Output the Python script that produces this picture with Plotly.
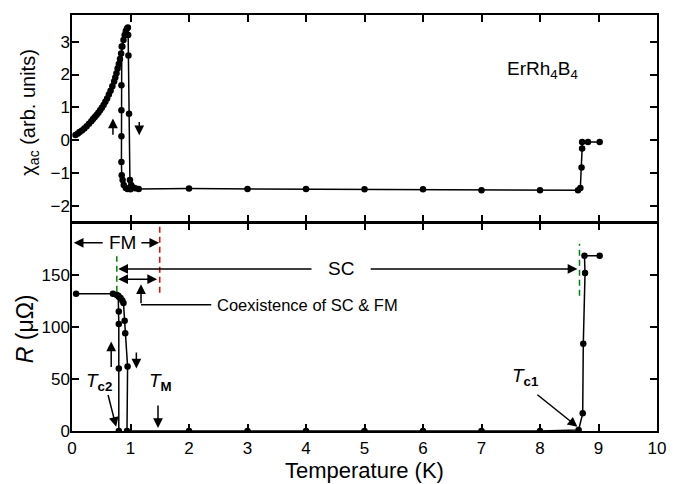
import plotly.graph_objects as go

# ---------------- data ----------------
chi_T = [0.06, 0.10, 0.13, 0.17, 0.21, 0.25, 0.29, 0.33, 0.36, 0.39, 0.42, 0.45,
         0.48, 0.51, 0.54, 0.57, 0.60, 0.63, 0.66, 0.69, 0.72, 0.74, 0.76, 0.78,
         0.80, 0.82, 0.84, 0.86, 0.88, 0.90, 0.92, 0.94, 0.955, 0.96, 0.965, 0.975,
         0.99, 1.01, 1.04, 1.08, 1.14, 2.0, 3.0, 4.0, 5.0, 6.0, 7.0, 8.0,
         8.65, 8.69, 8.71, 8.72, 8.72, 8.82, 9.02]
chi_val = [0.16, 0.21, 0.25, 0.30, 0.36, 0.43, 0.50, 0.58, 0.65, 0.71, 0.77, 0.84,
           0.91, 0.99, 1.07, 1.17, 1.27, 1.39, 1.51, 1.64, 1.79, 1.91, 2.04, 2.18,
           2.32, 2.47, 2.64, 2.85, 3.05, 3.20, 3.32, 3.40, 3.43, 3.20, 2.58, 0.81,
           -1.21, -1.36, -1.43, -1.46, -1.48, -1.47, -1.48, -1.48, -1.49, -1.49, -1.52, -1.52,
           -1.52, -1.45, -0.83, -0.25, -0.05, -0.05, -0.05]

chi_branch_T = [0.85, 0.845, 0.845, 0.845, 0.845, 0.85, 0.865, 0.885, 0.92, 0.95, 1.0]
chi_branch_val = [2.85, 1.67, 0.91, 0.12, -0.66, -1.06, -1.21, -1.36, -1.45, -1.48, -1.49]

R_T = [0.07, 0.70, 0.76, 0.80, 0.83, 0.86, 0.88, 0.90, 0.91, 0.95, 0.94,
       2.0, 3.0, 4.0, 5.0, 6.0, 7.0, 8.0, 8.66, 8.73, 8.74, 8.77, 8.76, 9.02]
R_val = [132, 132, 131, 129, 128, 125.6, 123, 106, 94, 62, 0,
         0, 0, 0, 0, 0, 0, 0, 1, 17, 84, 152, 168.6, 168.6]

R_branch_T = [0.79, 0.80, 0.80, 0.80, 0.80]
R_branch_val = [130, 115, 103, 60, 0]

x_ticks = [0, 1, 2, 3, 4, 5, 6, 7, 8, 9, 10]
chi_ticks = [-2, -1, 0, 1, 2, 3]
R_ticks = [0, 50, 100, 150]

# ---------------- figure ----------------
fig = go.Figure()
mk = dict(color="black", size=6.5)
ln = dict(color="black", width=1.5)

fig.add_trace(go.Scatter(x=chi_T, y=chi_val, mode="lines+markers", marker=mk, line=ln,
                         xaxis="x", yaxis="y", showlegend=False))
fig.add_trace(go.Scatter(x=chi_branch_T, y=chi_branch_val, mode="lines+markers", marker=mk,
                         line=ln, xaxis="x", yaxis="y", showlegend=False))
fig.add_trace(go.Scatter(x=R_T, y=R_val, mode="lines+markers", marker=mk, line=ln,
                         xaxis="x2", yaxis="y2", showlegend=False))
fig.add_trace(go.Scatter(x=R_branch_T, y=R_branch_val, mode="lines+markers", marker=mk,
                         line=ln, xaxis="x2", yaxis="y2", showlegend=False))

FONT = "Liberation Sans, Arial, sans-serif"
axis_common = dict(showline=True, linecolor="black", linewidth=1.5, mirror="ticks",
                   ticks="inside", ticklen=7, tickwidth=1.5, tickcolor="black",
                   showgrid=False, zeroline=False, automargin=False,
                   tickfont=dict(family=FONT, size=17, color="black"))

PLOT_H = 484 - 15 - 53
top_start = 0.5 + 1.5 / PLOT_H

fig.update_layout(
    width=681, height=484,
    margin=dict(l=72, r=24, t=15, b=53),
    paper_bgcolor="white", plot_bgcolor="white",
    font=dict(family=FONT, color="black"),
    xaxis=dict(domain=[0, 1], anchor="y", range=[0, 10], tickvals=x_ticks,
               showticklabels=False, **axis_common),
    yaxis=dict(domain=[top_start, 1], anchor="x", range=[-2.47, 3.81], tickvals=chi_ticks,
               ticklabelstandoff=-3, **axis_common),
    xaxis2=dict(domain=[0, 1], anchor="y2", range=[0, 10], tickvals=x_ticks,
                ticklabelstandoff=1, **axis_common),
    yaxis2=dict(domain=[0, 0.5], anchor="x2", range=[0, 200], tickvals=R_ticks,
                ticklabelstandoff=-3, **axis_common),
)

ann = []


def arrow(x, y, ax, ay, xr="x2", yr="y2", both=False):
    d = dict(x=x, y=y, ax=ax, ay=ay, xref=xr, yref=yr, axref=xr, ayref=yr,
             text="", showarrow=True, arrowhead=2, arrowsize=1.3, arrowwidth=1.5,
             arrowcolor="black", standoff=0, startstandoff=0)
    if both:
        d["arrowside"] = "end+start"
        d["startarrowhead"] = 2
        d["startarrowsize"] = 1.3
    ann.append(d)


def label(x, y, text, size=17, xr="x2", yr="y2", xanchor="center", bg=None):
    d = dict(x=x, y=y, xref=xr, yref=yr, text=text, showarrow=False,
             xanchor=xanchor, yanchor="middle",
             font=dict(family=FONT, size=size, color="black"))
    if bg:
        d["bgcolor"] = bg
    ann.append(d)


# FM arrows
arrow(0.03, 181, 0.55, 181)
arrow(1.49, 181, 1.16, 181)
label(0.87, 181, "FM", size=19)
# SC arrows
arrow(0.79, 155.8, 4.12, 155.8)
arrow(8.64, 155.8, 5.08, 155.8)
label(4.6, 155.8, "SC", size=19)
# coexistence double arrow
arrow(0.79, 146, 1.48, 146, both=True)
# coexistence pointer
arrow(1.18, 141, 1.18, 121.4)
label(2.45, 121.4, "Coexistence of SC &amp; FM", size=16.5, xanchor="left")
# T labels
label(0.47, 47, "<i>T</i><sub><b>c2</b></sub>", size=19)
arrow(0.755, 4, 0.61, 36)
label(1.51, 47, "<i>T</i><sub><b>M</b></sub>", size=19)
arrow(1.47, 3, 1.47, 26)
label(7.76, 52, "<i>T</i><sub><b>c1</b></sub>", size=19)
arrow(8.64, 4, 7.93, 36)
# hysteresis arrows bottom
arrow(0.67, 86, 0.67, 60)
arrow(1.10, 60, 1.10, 77)
# hysteresis arrows top
arrow(0.70, 0.66, 0.70, 0.12, xr="x", yr="y")
arrow(1.15, 0.15, 1.15, 0.60, xr="x", yr="y")
# compound label
label(8.05, 2.15, "ErRh<sub>4</sub>B<sub>4</sub>", size=19, xr="x", yr="y")
# axis titles
ann.append(dict(x=0.5, y=-(470 - 431) / PLOT_H, xref="paper", yref="paper",
                text="Temperature (K)", showarrow=False,
                xanchor="center", yanchor="middle",
                font=dict(family=FONT, size=22, color="black")))
ann.append(dict(x=-0.072, y=0.765, xref="paper", yref="paper", textangle=-90,
                text="χ<sub>ac</sub> (arb. units)", showarrow=False,
                xanchor="center", yanchor="middle",
                font=dict(family=FONT, size=20, color="black")))
ann.append(dict(x=-0.08, y=0.245, xref="paper", yref="paper", textangle=-90,
                text="<i>R</i> (μΩ)", showarrow=False,
                xanchor="center", yanchor="middle",
                font=dict(family=FONT, size=23, color="black")))

fig.update_layout(annotations=ann)

shapes = [
    dict(type="line", xref="x2", yref="y2", x0=1.5, x1=1.5, y0=133, y1=197,
         line=dict(color="red", width=1.5, dash="6px,4px")),
    dict(type="line", xref="x2", yref="y2", x0=0.766, x1=0.766, y0=134, y1=168,
         line=dict(color="green", width=1.5, dash="6px,4px")),
    dict(type="line", xref="x2", yref="y2", x0=8.675, x1=8.675, y0=130, y1=180,
         line=dict(color="green", width=1.5, dash="6px,4px")),
    dict(type="line", xref="x2", yref="y2", x0=1.18, x1=2.38, y0=121.4, y1=121.4,
         line=dict(color="black", width=1.5)),
]
fig.update_layout(shapes=shapes)

fig.write_html("out.html")
